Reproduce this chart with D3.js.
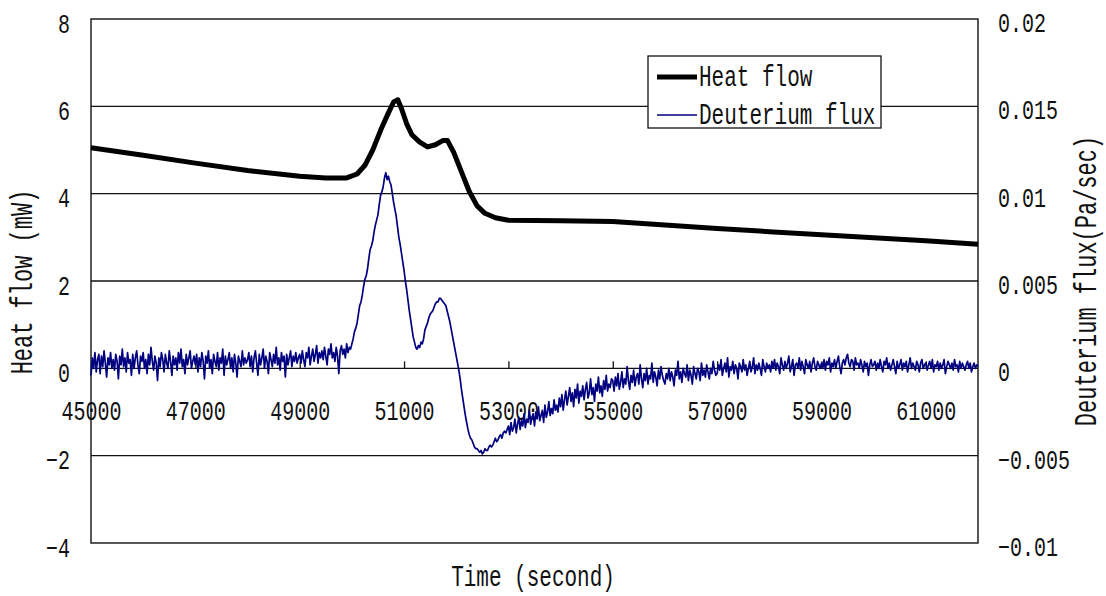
<!DOCTYPE html>
<html>
<head>
<meta charset="utf-8">
<script src="https://cdn.jsdelivr.net/npm/d3@7"></script>
<style>
  body { margin: 0; background: #fff; }
  svg { display: block; }
  text { font-family: "Liberation Mono", "DejaVu Sans Mono", monospace; fill: #111; }
</style>
</head>
<body>
<svg id="chart"></svg>
<script>
// ---- data ----
var xTicks = [45000, 47000, 49000, 51000, 53000, 55000, 57000, 59000, 61000]
var leftTicks = [-4, -2, 0, 2, 4, 6, 8]
var rightTicks = [-0.01, -0.005, 0, 0.005, 0.01, 0.015, 0.02]
var rightTickLabels = ["\u22120.01", "\u22120.005", "0", "0.005", "0.01", "0.015", "0.02"]

// heat flow (mW), left axis
var heatTime = [45000, 46000, 47000, 48000, 49000, 49500, 49900, 50100, 50250, 50400,
  50550, 50700, 50800, 50880, 50950, 51050, 51150, 51300, 51450, 51600,
  51750, 51830, 51950, 52100, 52250, 52400, 52550, 52750, 53000, 54000,
  55000, 56000, 57000, 58000, 59000, 60000, 61000, 62000]
var heatFlow = [5.05, 4.88, 4.70, 4.53, 4.40, 4.36, 4.36, 4.45, 4.65, 5.0,
  5.45, 5.85, 6.1, 6.15, 5.95, 5.6, 5.35, 5.18, 5.07, 5.12,
  5.22, 5.22, 4.95, 4.5, 4.05, 3.72, 3.55, 3.45, 3.39, 3.38,
  3.36, 3.28, 3.2, 3.13, 3.06, 2.99, 2.92, 2.84]

// deuterium flux, one reading every 25 s from 45000 s, in units of 1e-4 Pa/sec
var fluxStart = 45000
var fluxStep = 25
var flux_1e4 = [
  // 45000
  -4, 6, 0, 9, -2, 5, 8, -3, 7, 1, 10, 3, -5, 6, 2, 9, 0, 5, -1, 8,
  4, -6, 7, 2, 11, 1, 6, -2, 9, 3, 5, -4, 8, 0, 6, 10, 2, -3, 7, 4,
  // 46000
  9, 0, 5, -3, 8, 2, 12, 4, -1, 7, 3, -7, 6, 1, 9, 5, -2, 8, 3, 0,
  10, 4, -4, 7, 2, 6, -1, 9, 3, 11, 1, 5, -3, 8, 2, 6, 10, 0, 4, 7,
  // 47000
  2, 8, -2, 6, 1, 9, 4, -6, 7, 3, 10, 0, 5, -3, 8, 4, 1, 9, -1, 6,
  3, 11, -4, 7, 2, 5, 9, 0, 6, -2, 8, 3, -5, 7, 4, 1, 10, 2, 6, 3,
  // 48000
  5, 9, 1, 7, -2, 6, 10, 3, -4, 8, 2, 6, 11, 0, 7, 4, -3, 9, 5, 1,
  8, 3, 12, 2, 6, -1, 9, 4, 7, -5, 8, 2, 6, 10, 1, 7, 4, 9, 3, 6,
  // 49000
  8, 3, 10, 5, 1, 9, 6, 12, 2, 7, 11, 4, 8, 13, 3, 9, 6, 10, 5, 12,
  7, 2, 11, 8, 14, 6, 9, 4, 12, 7, -3, 10, 13, 8, 11, 6, 14, 9, 12, 11,
  // 50000
  14, 17, 21, 23, 26, 31, 36, 38, 42, 47, 51, 53, 57, 63, 68, 70, 73, 78, 82, 85,
  88, 94, 99, 101, 104, 109, 112, 108, 110, 107, 105, 100, 95, 91, 87, 81, 75, 71, 66, 61,
  // 51000
  56, 50, 45, 39, 33, 28, 23, 18, 15, 12, 11, 13, 12, 15, 14, 17, 22, 24, 26, 29,
  31, 32, 33, 35, 37, 38, 38, 40, 40, 39, 38, 37, 36, 33, 30, 27, 23, 19, 15, 11,
  // 52000
  7, 3, -1, -6, -12, -17, -22, -27, -31, -35, -38, -40, -41, -43, -45, -46, -46, -47, -48, -47,
  -49, -48, -46, -47, -47, -45, -44, -45, -44, -42, -40, -42, -41, -39, -38, -40, -37, -36, -37, -35,
  // 53000
  -33, -38, -31, -36, -34, -29, -37, -32, -28, -35, -30, -33, -26, -34, -29, -31, -24, -32, -28, -26,
  -33, -25, -29, -22, -30, -27, -24, -31, -21, -28, -25, -19, -27, -23, -26, -18, -24, -21, -25, -17,
  // 54000
  -22, -15, -24, -18, -13, -21, -16, -11, -19, -14, -22, -12, -17, -9, -20, -13, -16, -10, -18, -12,
  -8, -17, -14, -6, -15, -11, -19, -9, -13, -5, -14, -10, -16, -7, -12, -4, -13, -9, -11, -6,
  // 55000
  -7, -13, -5, -10, -3, -12, -8, -2, -11, -6, -9, 1, -7, -12, -4, -8, -1, -10, -5, -3,
  -9, 2, -6, -11, -3, -7, 0, -9, -4, -6, 3, -8, -2, -5, -10, -1, -6, 1, -4, -7,
  // 56000
  -9, -3, -6, 0, -7, -2, -5, -10, -1, -4, 4, -6, -2, -8, 0, -3, -5, 2, -7, -1,
  -4, -9, 1, -3, -6, 0, -2, -7, 3, -4, -1, -5, 2, -2, -6, 0, -3, 4, -1, -4,
  // 57000
  -3, 2, -1, 5, -4, 0, 3, -2, 6, -5, 1, -1, 4, -3, 2, 0, -6, 3, 1, -2,
  5, -1, 2, -4, 0, 4, -2, 1, 6, -3, 2, -1, 3, 0, -4, 5, 1, -2, 3, 0,
  // 58000
  2, -2, 4, 0, 5, -1, 3, 1, -3, 6, 2, -1, 4, 0, 3, 7, -2, 1, 5, -4,
  2, 3, 0, 6, -1, 4, 1, -3, 5, 2, 0, 4, -2, 3, 6, 1, -1, 4, 2, 0,
  // 59000
  3, 0, 5, -1, 4, 2, 6, -2, 3, 1, 5, 0, 4, 7, 1, -3, 3, 5, 2, 6,
  8, 3, 1, 5, 4, -1, 6, 2, 3, 0, 5, 2, -2, 4, 1, 3, -4, 2, 5, 1,
  // 60000
  2, 4, -1, 3, 0, 5, 1, -2, 4, 2, 6, 0, 3, -1, 2, 5, 1, -3, 4, 0,
  2, 5, -1, 3, 1, 4, -2, 2, 6, 0, 3, 1, -1, 4, 2, -2, 3, 5, 0, 2,
  // 61000 - 62000
  3, -1, 2, 4, 0, 5, -2, 2, 1, 4, -1, 3, 0, 2, 5, -3, 1, 4, 2, 0,
  3, -1, 5, 1, 2, -2, 4, 0, 3, 1, -1, 2, 4, 0, 3, -2, 1, 3, 0, 2, 1]

var seriesNames = ["Heat flow", "Deuterium flux"]
var seriesColors = ["#000000", "#000080"]

// ---- layout ----
var W = 1106, H = 596
var plot = {left: 91, right: 978, top: 19, bottom: 543}
var vs = 1.4  // vertical stretch, the original font is tall and narrow

var svg = d3.select("#chart").attr("width", W).attr("height", H)

var x = d3.scaleLinear().domain([45000, 62000]).range([plot.left, plot.right])
var yL = d3.scaleLinear().domain([-4, 8]).range([plot.bottom, plot.top])
var yR = d3.scaleLinear().domain([-0.01, 0.02]).range([plot.bottom, plot.top])

var heatData = heatTime.map(function(t, i) { return {t: t, v: heatFlow[i]} })
var fluxData = flux_1e4.map(function(v, i) { return {t: fluxStart + i * fluxStep, v: v / 10000} })
  .filter(function(d) { return d.t <= 62000 })

// gridlines
svg.append("g").selectAll("line")
  .data(leftTicks.filter(function(d) { return d > -4 && d < 8 }))
  .enter().append("line")
  .attr("x1", plot.left).attr("x2", plot.right)
  .attr("y1", function(d) { return yL(d) }).attr("y2", function(d) { return yL(d) })
  .attr("stroke", "#111").attr("stroke-width", 1.3)

// frame
svg.append("rect")
  .attr("x", plot.left).attr("y", plot.top)
  .attr("width", plot.right - plot.left).attr("height", plot.bottom - plot.top)
  .attr("fill", "none").attr("stroke", "#111").attr("stroke-width", 1.4)

// x axis sits on the zero line, ticks point up, labels below
var xAxis = svg.append("g")
  .attr("transform", "translate(0," + yL(0) + ")")
  .call(d3.axisBottom(x).tickValues(xTicks).tickSize(-7).tickFormat(function(d) { return d }))
xAxis.select(".domain").remove()
xAxis.selectAll("line").attr("stroke", "#111").attr("stroke-width", 1.3)
xAxis.selectAll("text")
  .attr("x", null).attr("y", null).attr("dy", null)
  .attr("text-anchor", "middle")
  .attr("transform", "translate(0,52) scale(1," + vs + ")")
  .style("font-size", "20px")

var leftAxis = svg.append("g")
  .attr("transform", "translate(" + plot.left + ",0)")
  .call(d3.axisLeft(yL).tickValues(leftTicks).tickSize(0))
leftAxis.select(".domain").remove()
leftAxis.selectAll("text")
  .attr("x", null).attr("y", null).attr("dy", null)
  .attr("text-anchor", "end")
  .attr("transform", "translate(-21,13) scale(1," + vs + ")")
  .style("font-size", "20px")

var rightAxis = svg.append("g")
  .attr("transform", "translate(" + plot.right + ",0)")
  .call(d3.axisRight(yR).tickValues(rightTicks).tickSize(0)
    .tickFormat(function(d, i) { return rightTickLabels[i] }))
rightAxis.select(".domain").remove()
rightAxis.selectAll("text")
  .attr("x", null).attr("y", null).attr("dy", null)
  .attr("text-anchor", "start")
  .attr("transform", "translate(20,12.5) scale(1," + vs + ")")
  .style("font-size", "20px")

// axis titles
var title = function(txt, cx, cy, rot, size) {
  svg.append("text")
    .attr("text-anchor", "middle")
    .attr("transform", "translate(" + cx + "," + cy + ") rotate(" + rot + ") scale(1," + vs + ") translate(0,6)")
    .style("font-size", size + "px")
    .text(txt)
}
title("Time (second)", 533, 578, 0, 21)
title("Heat flow (mW)", 24, 282, -90, 22)
title("Deuterium flux(Pa/sec)", 1088, 281, -90, 22)

// series
var fluxLine = d3.line().x(function(d) { return x(d.t) }).y(function(d) { return yR(d.v) })
var heatLine = d3.line().x(function(d) { return x(d.t) }).y(function(d) { return yL(d.v) })

svg.append("path").datum(fluxData)
  .attr("d", fluxLine)
  .attr("fill", "none").attr("stroke", seriesColors[1]).attr("stroke-width", 1.7)
  .attr("stroke-linejoin", "round")

svg.append("path").datum(heatData)
  .attr("d", heatLine)
  .attr("fill", "none").attr("stroke", seriesColors[0]).attr("stroke-width", 5)
  .attr("stroke-linejoin", "round")

// legend
var legend = svg.append("g")
legend.append("rect")
  .attr("x", 648).attr("y", 56).attr("width", 233).attr("height", 72)
  .attr("fill", "#fff").attr("stroke", "#111").attr("stroke-width", 1.3)
var rowsY = [77, 115]
var rowsW = [5, 1.5]
seriesNames.forEach(function(name, i) {
  legend.append("line")
    .attr("x1", 657).attr("x2", 697).attr("y1", rowsY[i]).attr("y2", rowsY[i])
    .attr("stroke", seriesColors[i]).attr("stroke-width", rowsW[i])
  legend.append("text")
    .attr("transform", "translate(699," + (rowsY[i] + 9) + ") scale(1," + vs + ")")
    .style("font-size", "21px")
    .text(name)
})
</script>
</body>
</html>
